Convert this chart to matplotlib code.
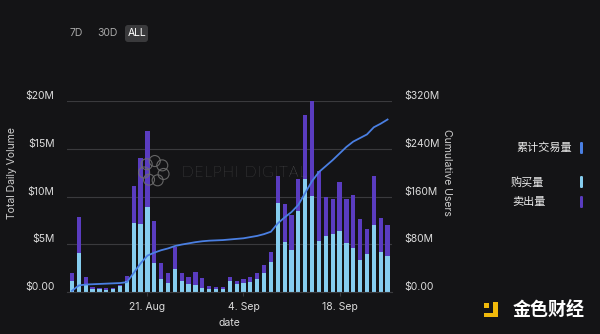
import matplotlib
matplotlib.use('Agg')
import matplotlib.pyplot as plt
import numpy as np
import pandas as pd
from matplotlib.patches import FancyBboxPatch, Circle, Rectangle

plt.rcParams['font.family'] = ['Inter', 'Noto Sans CJK SC', 'DejaVu Sans']

# ---------------- data ----------------
dates = pd.date_range('2022-08-10', '2022-09-25', freq='D')
buy = [1.19, 4.05, 0.73, 0.35, 0.28, 0.24, 0.28, 0.63, 1.15, 7.26, 7.1, 8.86,
       3.0, 1.33, 0.98, 2.37, 1.17, 0.82, 0.75, 0.38, 0.36, 0.3, 0.29, 1.1,
       0.87, 0.98, 1.08, 1.4, 1.95, 3.14, 9.35, 5.25, 4.4, 8.5, 11.8, 10.05,
       5.37, 5.9, 6.08, 6.4, 5.18, 4.6, 3.37, 3.98, 7.0, 4.2, 3.8]
sell = [0.83, 3.85, 0.87, 0.21, 0.14, 0.14, 0.14, 0.07, 0.53, 3.84, 6.9, 8.04,
        4.4, 1.67, 1.02, 2.38, 0.83, 0.7, 1.37, 1.12, 0.24, 0.22, 0.2, 0.5,
        0.3, 0.35, 0.49, 0.6, 0.87, 1.07, 2.75, 3.95, 3.66, 3.3, 6.7, 9.95,
        7.33, 4.0, 3.64, 5.15, 4.56, 5.6, 4.27, 2.58, 5.1, 3.58, 3.25]
cumulative = [2, 11, 12.5, 13, 13.5, 14, 14.5, 15, 16.5, 32, 48, 61,
              66, 70, 73, 77, 79.5, 81.5, 83.5, 85, 86, 86.5, 87, 88,
              89, 90, 92, 94, 97, 101, 115, 125, 134, 146, 166, 186,
              201, 211, 221, 232, 243, 252, 258, 264, 276, 282, 289]
tick_dates = ['2022-08-21', '2022-09-04', '2022-09-18']
tick_labels = ['21. Aug', '4. Sep', '18. Sep']
left_ticks = [0, 5, 10, 15, 20]
left_labels = ['$0.00', '$5M', '$10M', '$15M', '$20M']
right_ticks = [0, 80, 160, 240, 320]
right_labels = ['$0.00', '$80M', '$160M', '$240M', '$320M']
series_names = ['累计交易量', '购买量', '卖出量']

# ---------------- style ----------------
BG = '#141416'
LIGHT = '#86cdef'
PURPLE = '#5a3cc0'
BLUE = '#4a7fe2'
GRID = '#3a3a3d'
TXT = '#dcdcdc'

fig = plt.figure(figsize=(6, 3.34), dpi=100, facecolor=BG)
ax = fig.add_axes([67 / 600, 42 / 334, 325 / 600, 191 / 334])
ax.set_facecolor(BG)

x = np.arange(len(dates))
ax.bar(x, buy, width=0.62, color=LIGHT, zorder=2, linewidth=0)
ax.bar(x, sell, bottom=buy, width=0.62, color=PURPLE, zorder=2, linewidth=0)
ax.set_xlim(-0.73, 46.65)
ax.set_ylim(0, 20)

ax.set_yticks(left_ticks, labels=left_labels, va='bottom')
ax.yaxis.grid(True, color=GRID, lw=0.8)
ax.set_axisbelow(True)
ax.tick_params(axis='y', length=0, pad=9, labelsize=7.5, labelcolor=TXT)
for s in ['top', 'left', 'right']:
    ax.spines[s].set_visible(False)
ax.spines['bottom'].set_color(GRID)
ax.spines['bottom'].set_linewidth(0.8)

tick_pos = [list(dates).index(pd.Timestamp(d)) for d in tick_dates]
ax.set_xticks(tick_pos, labels=tick_labels)
ax.tick_params(axis='x', length=3, color=GRID, pad=4.5, labelsize=7.5, labelcolor=TXT)
ax.set_xlabel('date', fontsize=7.5, color=TXT, labelpad=4)

ax2 = ax.twinx()
ax2.plot(x, cumulative, color=BLUE, lw=1.3, zorder=3)
ax2.set_ylim(0, 320)
ax2.set_yticks(right_ticks, labels=right_labels, va='bottom')
ax2.tick_params(axis='y', length=0, pad=9, labelsize=7.5, labelcolor=TXT)
for s in ax2.spines.values():
    s.set_visible(False)
ax2.set_facecolor('none')

# axis titles
fig.text(12 / 600, 1 - 173 / 334, 'Total Daily Volume', rotation=90,
         ha='center', va='center', fontsize=7.5, color='#cfcfcf')
fig.text(447 / 600, 1 - 172 / 334, 'Cumulative Users', rotation=-90,
         ha='center', va='center', fontsize=7.5, color='#cfcfcf')

def inch(px, py):
    return (px / 100, (334 - py) / 100)

# legend
leg_y = [148, 182, 202]
leg_x = [516, 511, 512]
leg_col = [BLUE, LIGHT, PURPLE]
for name, lx, ly, c in zip(series_names, leg_x, leg_y, leg_col):
    fig.text(lx / 600, 1 - ly / 334, name, ha='left', va='center',
             fontsize=8, color='#ececec')
    p = FancyBboxPatch(inch(580, ly + 6), 0.03, 0.12,
                       boxstyle='round,pad=0,rounding_size=0.012',
                       transform=fig.dpi_scale_trans, facecolor=c, edgecolor='none')
    fig.patches.append(p)

# range buttons
btn = FancyBboxPatch(inch(125, 42), 0.23, 0.17,
                     boxstyle='round,pad=0,rounding_size=0.03',
                     transform=fig.dpi_scale_trans, facecolor='#3a3a3c', edgecolor='none')
fig.patches.append(btn)
for t, bx, c in zip(['7D', '30D', 'ALL'], [76, 107, 137], ['#a8a8a8', '#a8a8a8', '#ffffff']):
    fig.text(bx / 600, 1 - 33.5 / 334, t, ha='center', va='center', fontsize=7.5, color=c)

# watermark
cx, cy = 154, 171
for k in range(7):
    a = 2 * np.pi * k / 7 + 0.3
    px_, py_ = cx + 10 * np.cos(a), cy + 10 * np.sin(a)
    fig.patches.append(Circle(inch(px_, py_), 0.055, transform=fig.dpi_scale_trans,
                              facecolor='none', edgecolor='#6e6e6e', lw=0.8, alpha=0.9))
wm = '\u200a'.join('DELPHI DIGITAL')
fig.text(182 / 600, 1 - 173 / 334, wm, ha='left', va='center',
         fontsize=11, color='#7c7c7c', family=['Lato', 'DejaVu Sans'],
         fontweight='light', alpha=0.9)

# bottom-right logo
GOLD = '#f0b90b'
for (rx, ry, rw, rh) in [(484, 308, 5, 5), (493, 317, 4.5, 15), (484, 317, 13, 4.5)]:
    fig.patches.append(Rectangle(inch(rx, ry), rw / 100, rh / 100,
                                 transform=fig.dpi_scale_trans, facecolor=GOLD, edgecolor='none'))
fig.text(549 / 600, 1 - 311 / 334, '金色财经', ha='center', va='center',
         fontsize=13, color='#ffffff', fontweight='bold')

fig.savefig('out.png', dpi=100, facecolor=BG)
